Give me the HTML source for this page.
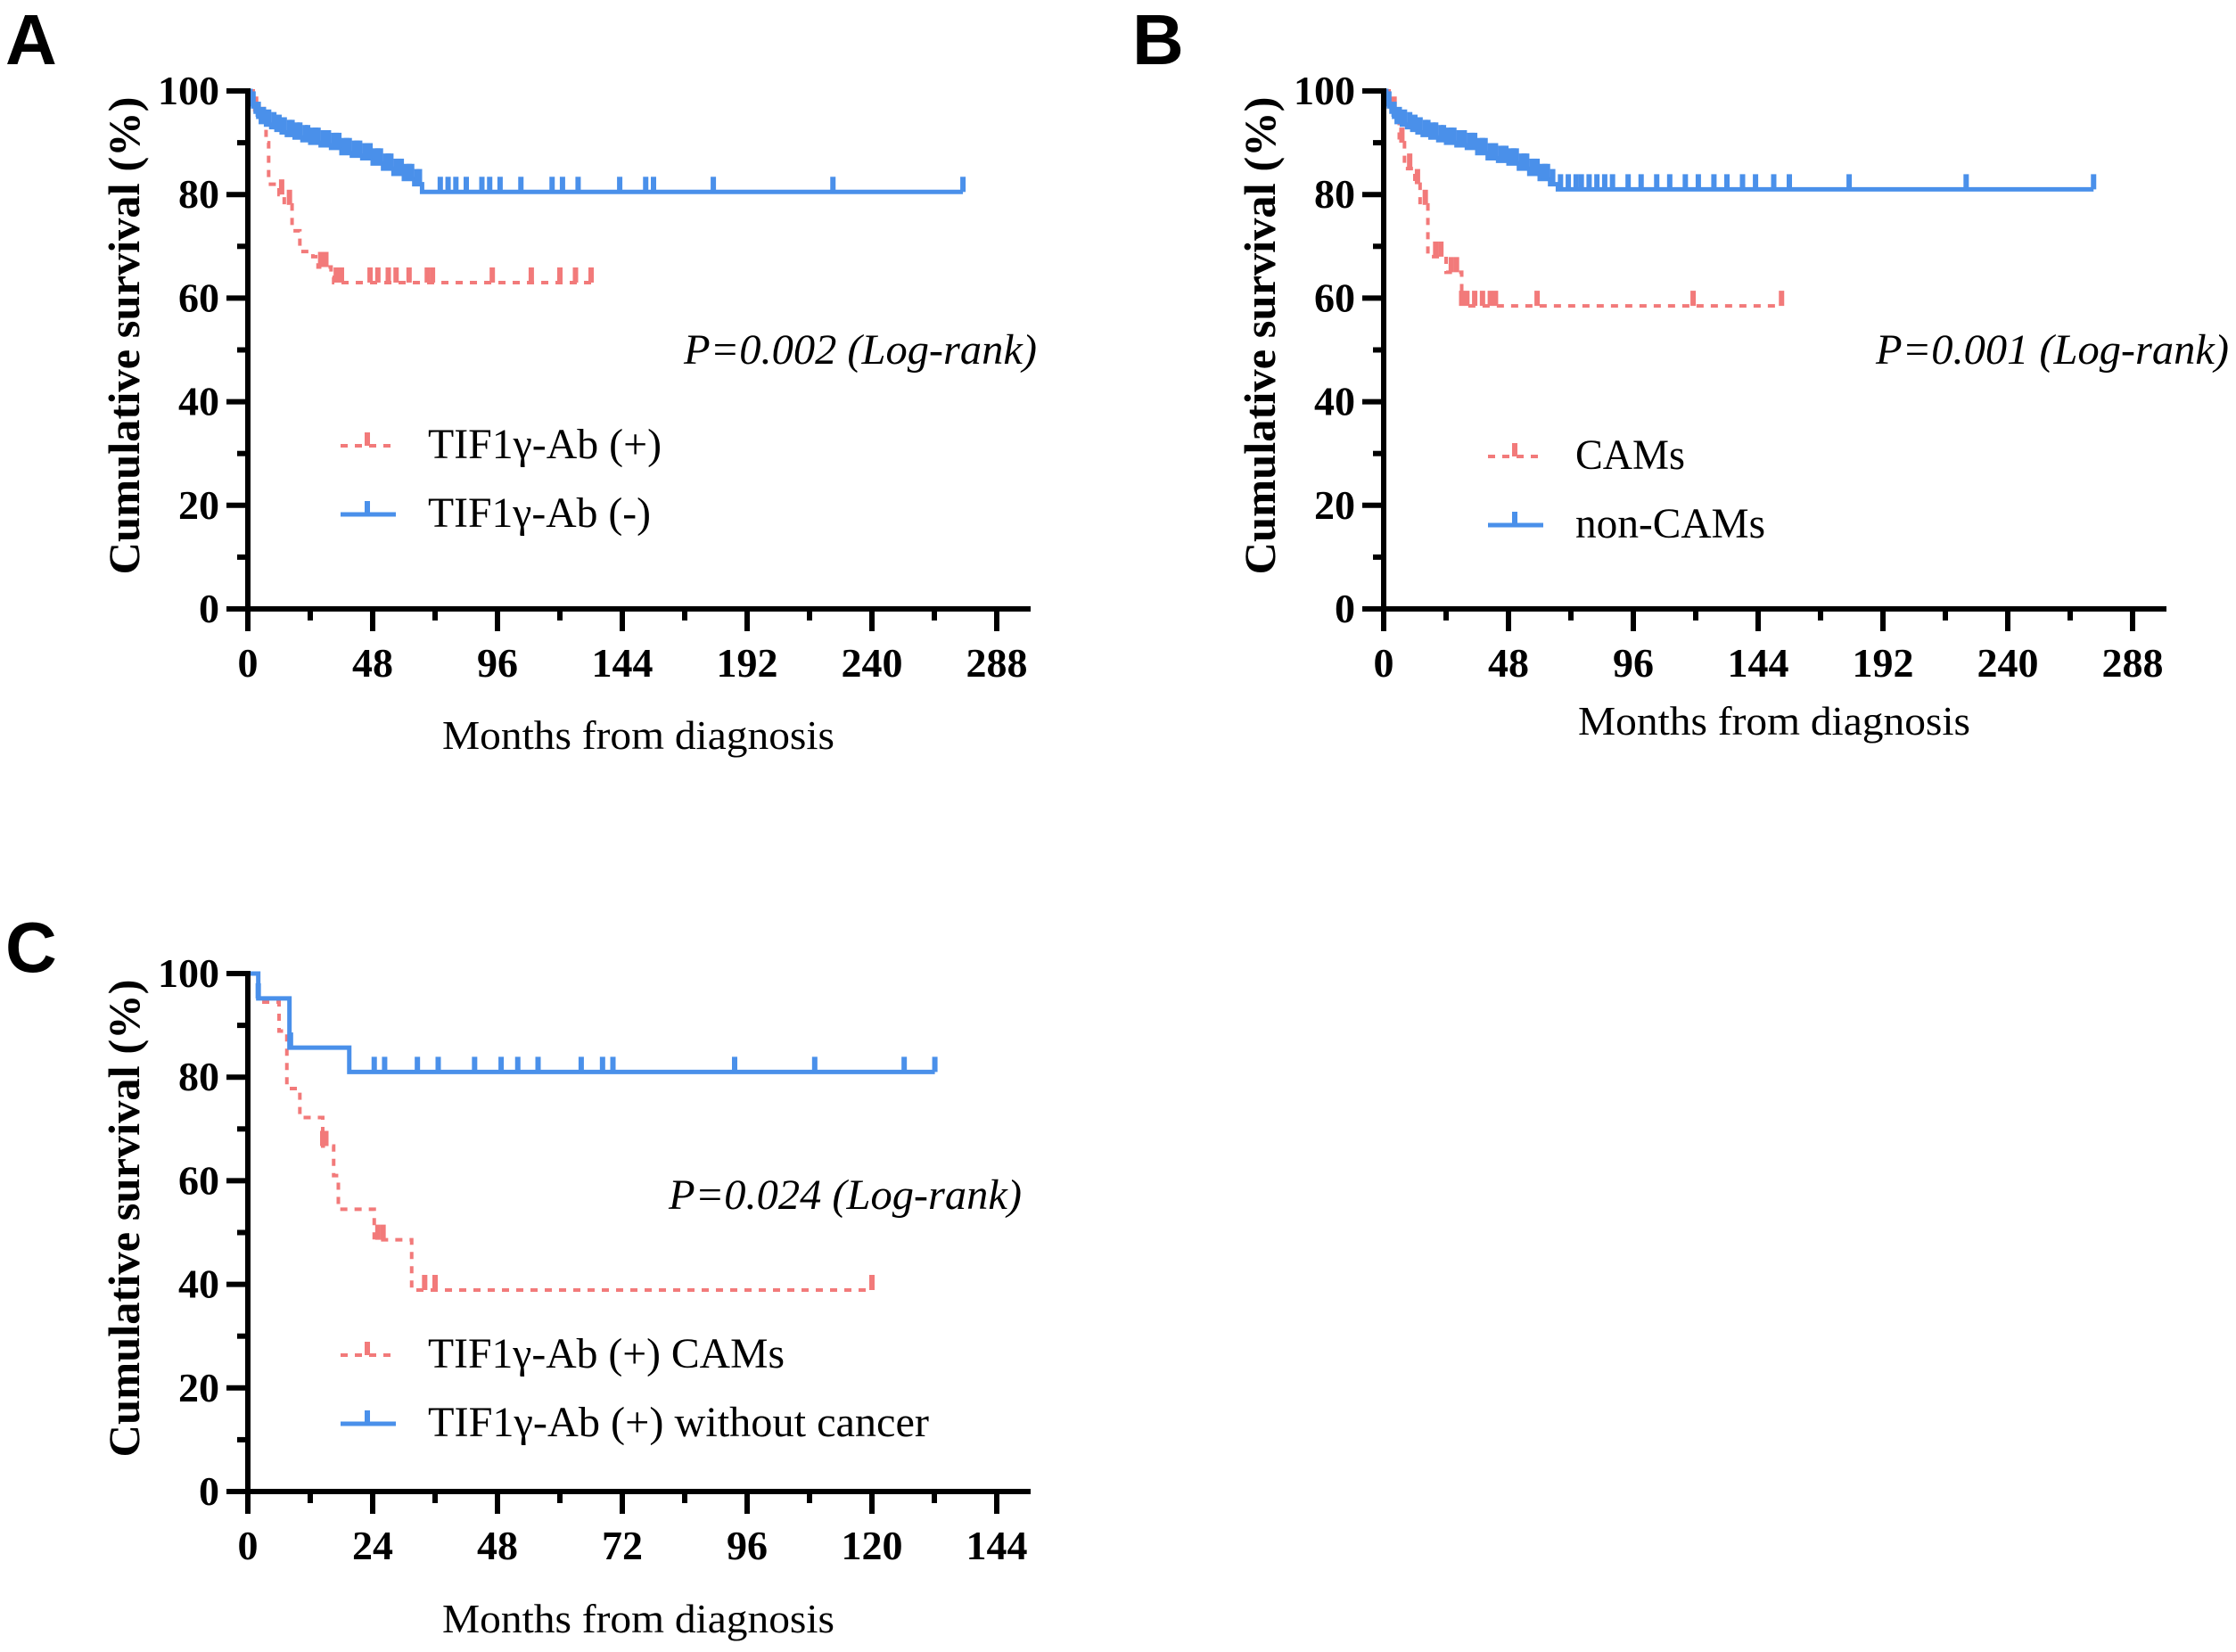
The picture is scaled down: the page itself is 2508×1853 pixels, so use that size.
<!DOCTYPE html>
<html><head><meta charset="utf-8">
<style>
html,body{margin:0;padding:0;background:#fff;}
svg{display:block;}
</style></head>
<body>
<svg id="fig" width="2508" height="1853" viewBox="0 0 2508 1853" xmlns="http://www.w3.org/2000/svg"></svg>
<script>
// ---- Panel A data ----
const aRedTimes = [0,3,5,7,8,12,14,17,20,25,27,32,33];
const aRedSurv  = [100,96,94,90,82,80,78,73,69,68,66,64,63];
const aRedCens  = [3,6,13,16,28,30,34,36,47,50,54,57,62,69,71,94,109,120,126,132];
const aRedEnd = 132;
const aBlueTimes = [0,1,2,3,4,5,7,9,11,13,15,18,21,24,28,32,36,40,44,48,52,56,60,64,67];
const aBlueSurv  = [100,98,97,96,95,94,93.5,93,92.5,92,91.5,91,90.5,90,89.5,89,88,87.5,87,86,85,84,83,82,80.5];
const aBlueCens  = [2,4,6,8,10,12,14,16,17,19,20,22,23,25,26,27,29,30,31,33,34,35,37,38,39,41,42,43,45,46,47,49,50,51,53,54,55,57,58,59,61,62,63,65,66,74,77,80,84,90,93,97,105,117,121,127,143,153,156,179,225,275];
const aBlueEnd = 275;
// ---- Panel B data ----
const bRedTimes = [0,3,6,8,12,14,17,24,30];
const bRedSurv  = [100,96,90,85,82,78,68,65,58.5];
const bRedCens  = [4,7,10,13,16,20,22,26,28,30,32,35,38,41,43,59,119,153];
const bRedEnd = 153;
const bBlueTimes = [0,1,2,3,4,5,7,9,11,13,15,18,21,24,28,32,36,40,44,48,52,56,60,64,67];
const bBlueSurv  = [100,98,97,96,95,94,93.5,93,92.5,92,91.5,91,90.5,90,89.5,89,88,87,86.5,86,85,84,83,82,81];
const bBlueCens  = [2,4,6,8,10,12,14,16,17,19,20,22,23,25,26,27,29,30,31,33,34,35,37,38,39,41,42,43,45,46,47,49,50,51,53,54,55,57,58,59,61,62,63,65,68,71,74,76,79,82,85,88,94,99,105,110,116,121,127,132,138,143,150,156,179,224,273];
const bBlueEnd = 273;
// ---- Panel C data ----
const cRedTimes = [0,2,6,7.5,10,14.4,16.5,17.4,24.3,31.5];
const cRedSurv  = [100,94.5,88.9,77.8,72.2,66.7,61,54.5,48.6,38.9];
const cRedCens  = [14.4,15,25,26,34,36,120];
const cRedEnd = 120;
const cBlueTimes = [0,2,8,19.5];
const cBlueSurv  = [100,95.2,85.7,81];
const cBlueCens  = [2,8.2,24.3,26.3,32.6,36.6,43.6,48.7,51.9,55.8,64.1,68.2,70.2,93.6,109,126.2,132.1];
const cBlueEnd = 132.1;
// ---- tick labels ----
const yTicks = [0,20,40,60,80,100];
const xTicksAB = [0,48,96,144,192,240,288];
const xTicksC = [0,24,48,72,96,120,144];

const NS = "http://www.w3.org/2000/svg";
const svg = document.getElementById('fig');
const RED = "#f27a7a", BLUE = "#4a90ea";

function mk(tag, attrs, parent) {
  const e = document.createElementNS(NS, tag);
  for (const k in attrs) e.setAttribute(k, attrs[k]);
  (parent || svg).appendChild(e);
  return e;
}
function txt(str, attrs, parent) {
  const t = mk('text', attrs, parent);
  t.textContent = str;
  return t;
}

function panel(cfg) {
  const g = mk('g', {});
  
  
  const x0 = cfg.x0, y0 = cfg.y0, w = 840, h = 581;
  const xs = v => x0 + v / cfg.xmax * w;
  const ys = v => y0 - v / 100 * h;

  const L = txt(cfg.letter, {x: cfg.lx, y: cfg.ly, 'font-family': '"Liberation Sans", sans-serif', 'font-weight': 'bold', 'font-size': 80}, g);
  
  

  function curve(times, surv, end, cens, color, dashed, nm) {
    let d = `M${xs(times[0])},${ys(surv[0])}`;
    for (let i = 1; i < times.length; i++) {
      d += ` H${xs(times[i])} V${ys(surv[i])}`;
    }
    d += ` H${xs(end)}`;
    const p = mk('path', {d: d, fill: 'none', stroke: color, 'stroke-width': dashed ? 4 : 5, 'stroke-dasharray': dashed ? '8 8' : 'none'}, g);
    
    
    cens.forEach(t => {
      let s = surv[0];
      for (let i = 0; i < times.length; i++) if (times[i] <= t) s = surv[i];
      const c = mk('line', {x1: xs(t), x2: xs(t), y1: ys(s), y2: ys(s) - 17, stroke: color, 'stroke-width': 6}, g);
      
      
    });
  }
  curve(cfg.red.t, cfg.red.s, cfg.red.end, cfg.red.c, RED, true, 'red-series');
  curve(cfg.blue.t, cfg.blue.s, cfg.blue.end, cfg.blue.c, BLUE, false, 'blue-series');

  const ya = mk('line', {x1: x0, x2: x0, y1: ys(100) - 3, y2: y0 + 25, stroke: '#000', 'stroke-width': 6}, g);
  
  
  const xa = mk('line', {x1: x0 - 24, x2: x0 + w + 38, y1: y0, y2: y0, stroke: '#000', 'stroke-width': 6}, g);
  
  
  for (let v = 0; v <= 100; v += 10) {
    const major = v % 20 === 0;
    mk('line', {x1: x0 - (major ? 24 : 12), x2: x0, y1: ys(v), y2: ys(v), stroke: '#000', 'stroke-width': 6}, g);
  }
  yTicks.forEach(v => {
    const t = txt(String(v), {x: x0 - 32, y: ys(v) + 15, 'text-anchor': 'end', 'font-family': '"Liberation Serif", serif', 'font-weight': 'bold', 'font-size': 46}, g);
    
    
  });
  const step = cfg.xmax / 12;
  for (let i = 0; i <= 12; i++) {
    const major = i % 2 === 0;
    mk('line', {x1: xs(i * step), x2: xs(i * step), y1: y0, y2: y0 + (major ? 25 : 13), stroke: '#000', 'stroke-width': 6}, g);
  }
  cfg.xt.forEach(v => {
    const t = txt(String(v), {x: xs(v), y: y0 + 76, 'text-anchor': 'middle', 'font-family': '"Liberation Serif", serif', 'font-weight': 'bold', 'font-size': 46}, g);
    
    
  });
  const yt = txt('Cumulative survival (%)', {x: 0, y: 0, transform: `translate(${x0 - 122},${(y0 + ys(100)) / 2 - 16}) rotate(-90)`, 'text-anchor': 'middle', 'font-family': '"Liberation Serif", serif', 'font-weight': 'bold', 'font-size': 50, textLength: 536, lengthAdjust: 'spacingAndGlyphs'}, g);
  
  
  const xtl = txt('Months from diagnosis', {x: x0 + 438, y: cfg.xty, 'text-anchor': 'middle', 'font-family': '"Liberation Serif", serif', 'font-size': 46, textLength: 440, lengthAdjust: 'spacingAndGlyphs'}, g);
  
  
  const pt = txt(cfg.p, {x: cfg.px, y: cfg.py, 'text-anchor': 'end', 'font-family': '"Liberation Serif", serif', 'font-style': 'italic', 'font-size': 48, textLength: 396, lengthAdjust: 'spacingAndGlyphs'}, g);
  
  
  [[RED, true, cfg.leg[0], cfg.legW[0], cfg.ly1], [BLUE, false, cfg.leg[1], cfg.legW[1], cfg.ly2]].forEach(([col, dsh, label, lw, ly]) => {
    const lg = mk('g', {}, g);
    
    
    const lx = x0 + cfg.legDx;
    mk('line', {x1: lx, x2: lx + 62, y1: ly, y2: ly, stroke: col, 'stroke-width': dsh ? 4 : 5, 'stroke-dasharray': dsh ? '8 8' : 'none'}, lg);
    mk('line', {x1: lx + 30, x2: lx + 30, y1: ly, y2: ly - 15, stroke: col, 'stroke-width': 6}, lg);
    txt(label, {x: lx + 98, y: ly + 14, 'font-family': '"Liberation Serif", serif', 'font-size': 48, textLength: lw, lengthAdjust: 'spacingAndGlyphs'}, lg);
  });
}

panel({name: 'panel-a', letter: 'A', lx: 6, ly: 72, x0: 278, y0: 683, xmax: 288, xt: xTicksAB, xty: 840,
  red: {t: aRedTimes, s: aRedSurv, end: aRedEnd, c: aRedCens}, blue: {t: aBlueTimes, s: aBlueSurv, end: aBlueEnd, c: aBlueCens},
  p: 'P=0.002 (Log-rank)', px: 1163, py: 408, leg: ['TIF1γ-Ab (+)', 'TIF1γ-Ab (-)'], legW: [262, 250], ly1: 500, ly2: 577, legDx: 104});
panel({name: 'panel-b', letter: 'B', lx: 1270, ly: 72, x0: 1552, y0: 683, xmax: 288, xt: xTicksAB, xty: 824,
  red: {t: bRedTimes, s: bRedSurv, end: bRedEnd, c: bRedCens}, blue: {t: bBlueTimes, s: bBlueSurv, end: bBlueEnd, c: bBlueCens},
  p: 'P=0.001 (Log-rank)', px: 2500, py: 408, leg: ['CAMs', 'non-CAMs'], legW: [123, 213], ly1: 512, ly2: 589, legDx: 117});
panel({name: 'panel-c', letter: 'C', lx: 6, ly: 1090, x0: 278, y0: 1673, xmax: 144, xt: xTicksC, xty: 1831,
  red: {t: cRedTimes, s: cRedSurv, end: cRedEnd, c: cRedCens}, blue: {t: cBlueTimes, s: cBlueSurv, end: cBlueEnd, c: cBlueCens},
  p: 'P=0.024 (Log-rank)', px: 1146, py: 1356, leg: ['TIF1γ-Ab (+) CAMs', 'TIF1γ-Ab (+) without cancer'], legW: [400, 562], ly1: 1520, ly2: 1597, legDx: 104});
</script>
</body></html>
